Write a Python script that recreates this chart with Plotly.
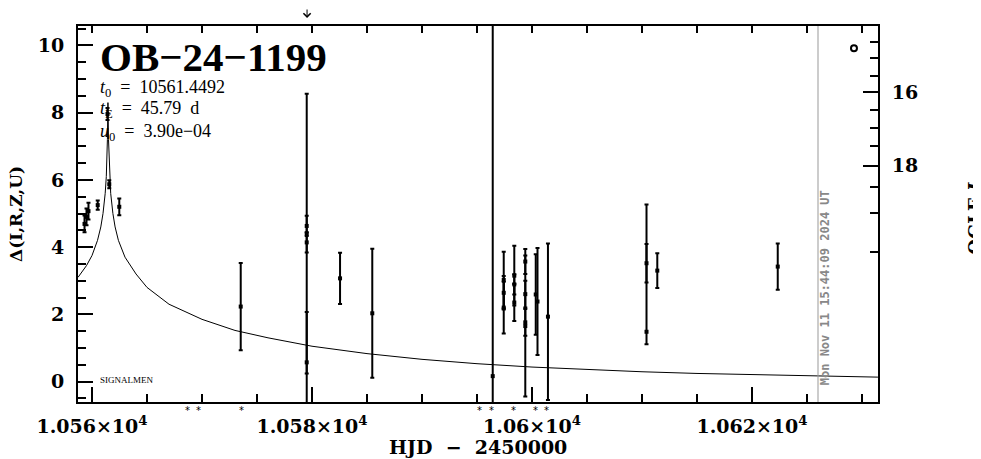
import plotly.graph_objects as go

# ---------------- data ----------------
# model light curve
curve_t = [10558.73, 10559.0, 10559.5, 10560.0, 10560.5, 10560.8, 10561.0, 10561.2, 10561.3,
           10561.4, 10561.45, 10561.5, 10561.6, 10561.7, 10561.9, 10562.1, 10562.4, 10563.0,
           10564.0, 10565.0, 10567.0, 10570.0, 10573.0, 10576.0, 10580.0, 10585.0, 10590.0,
           10595.0, 10600.0, 10605.0, 10610.0, 10615.0, 10620.0, 10625.0, 10631.45]
curve_d = [3.10, 3.22, 3.45, 3.75, 4.20, 4.60, 5.00, 5.60, 6.10,
           7.20, 8.30, 7.20, 6.10, 5.60, 5.00, 4.60, 4.20, 3.70,
           3.20, 2.80, 2.30, 1.85, 1.52, 1.30, 1.05, 0.83, 0.66,
           0.53, 0.43, 0.35, 0.29, 0.24, 0.20, 0.17, 0.13]

# observations: time, delta, error plus, error minus
obs_t = [10559.32, 10559.50, 10559.68, 10560.52, 10561.41, 10561.57, 10562.48,
         10573.52, 10579.52, 10579.52, 10579.52, 10579.52, 10582.55, 10585.48,
         10596.43, 10597.43, 10597.43, 10597.43, 10598.39, 10598.39, 10598.39,
         10599.39, 10599.39, 10599.39, 10599.39, 10600.34, 10600.50, 10601.45,
         10610.41, 10610.41, 10611.39, 10622.34]
obs_d = [4.69, 4.90, 5.07, 5.25, 7.96, 5.87, 5.20,
         2.23, 4.40, 4.63, 4.14, 0.57, 3.07, 2.03,
         0.16, 3.02, 2.64, 2.20, 3.15, 2.89, 2.35,
         3.57, 2.60, 1.76, 1.65, 2.59, 2.38, 1.93,
         1.48, 3.52, 3.30, 3.42]
obs_ep = [0.25, 0.25, 0.25, 0.14, 0.18, 0.12, 0.25,
          1.30, 4.16, 0.30, 0.30, 1.50, 0.76, 1.92,
          10.5, 0.84, 0.50, 0.77, 0.89, 0.30, 0.55,
          0.37, 0.40, 0.40, 2.10, 1.20, 1.59, 2.18,
          3.79, 0.57, 0.52, 0.69]
obs_em = [0.25, 0.25, 0.25, 0.14, 0.18, 0.12, 0.25,
          1.30, 4.16, 0.30, 0.30, 1.50, 0.76, 1.92,
          1.00, 0.84, 0.50, 0.77, 0.89, 0.30, 0.55,
          0.37, 0.40, 0.40, 2.10, 1.20, 1.59, 2.48,
          0.37, 0.57, 0.52, 0.69]

# baseline marker
base_t = [10629.27]
base_d = [9.92]

# asterisks under the axis (times)
star_t = [10568.64, 10569.64, 10573.55, 10595.27, 10596.36, 10598.36, 10600.36, 10601.36]

x_tickvals = [10560, 10580, 10600, 10620]
x_ticktext = ["1.056×10<sup>4</sup>", "1.058×10<sup>4</sup>", "1.06×10<sup>4</sup>", "1.062×10<sup>4</sup>"]
x_top_ticks = [10560, 10565, 10570, 10575, 10580, 10585, 10590, 10595, 10600, 10605, 10610, 10615, 10620, 10625, 10630]
y_tickvals = [0, 2, 4, 6, 8, 10]
ogle_major_pos = [8.61, 6.42]
ogle_major_lab = ["16", "18"]
ogle_minor_pos = [10.10, 9.62, 9.08, 8.09, 7.55, 7.01, 5.80, 5.01, 3.84]

today_t = 10626.0
arrow_t = 10579.55

XR = [10558.727, 10631.455]
YR = [-0.61, 10.58]

TICKFONT = dict(family="DejaVu Serif", size=19, color="black", weight="bold")

fig = go.Figure()

fig.add_trace(go.Scatter(x=curve_t, y=curve_d, mode="lines",
                         line=dict(color="black", width=1), hoverinfo="skip"))

fig.add_trace(go.Scatter(
    x=obs_t, y=obs_d, mode="markers",
    marker=dict(color="black", size=4, symbol="square"),
    error_y=dict(type="data", array=obs_ep, arrayminus=obs_em, symmetric=False,
                 color="black", thickness=2, width=2),
    cliponaxis=True))

fig.add_trace(go.Scatter(
    x=base_t, y=base_d, mode="markers", xaxis="x2", yaxis="y2",
    marker=dict(symbol="circle-open", size=6, color="black", line=dict(color="black", width=2))))

fig.update_layout(
    width=973, height=451,
    margin=dict(l=70, r=103, t=18, b=57),
    plot_bgcolor="white", paper_bgcolor="white",
    showlegend=False,
    xaxis=dict(range=XR, tickvals=x_tickvals, ticktext=x_ticktext,
               ticks="inside", ticklen=15, tickwidth=2, tickcolor="black",
               showline=True, linewidth=2, linecolor="black",
               showgrid=False, zeroline=False, tickfont=TICKFONT,
               ticklabelstandoff=6,
               minor=dict(tick0=10560, dtick=5, ticks="inside", ticklen=8,
                          tickwidth=2, tickcolor="black", showgrid=False)),
    xaxis2=dict(range=XR, overlaying="x", side="top", tickvals=x_top_ticks,
                ticks="inside", ticklen=7, tickwidth=2, tickcolor="black",
                showticklabels=False, showline=True, linewidth=2, linecolor="black",
                showgrid=False, zeroline=False),
    yaxis=dict(range=YR, tickvals=y_tickvals, ticks="inside", ticklen=15,
               tickwidth=2, tickcolor="black", showline=True, linewidth=2,
               linecolor="black", showgrid=False, zeroline=False, tickfont=TICKFONT,
               ticklabelstandoff=8,
               minor=dict(tick0=0, dtick=0.5, ticks="inside", ticklen=8,
                          tickwidth=2, tickcolor="black", showgrid=False)),
    yaxis2=dict(range=YR, overlaying="y", side="right", tickvals=ogle_major_pos,
                ticktext=ogle_major_lab, ticks="inside", ticklen=15, tickwidth=2,
                tickcolor="black", showline=True, linewidth=2, linecolor="black",
                showgrid=False, zeroline=False, tickfont=TICKFONT,
                ticklabelstandoff=8,
                minor=dict(tickvals=ogle_minor_pos, ticks="inside", ticklen=8,
                           tickwidth=2, tickcolor="black", showgrid=False)),
)

fig.add_shape(type="line", xref="x", yref="paper", x0=today_t, x1=today_t, y0=0, y1=1,
              line=dict(color="#999999", width=1))

ann = []
ann.append(dict(xref="paper", yref="paper", x=0.025, y=0.9176, xanchor="left", yanchor="middle",
                text="OB−24−1199", showarrow=False,
                font=dict(family="Liberation Serif", size=41, color="black", weight="bold")))
pfont = dict(family="Liberation Serif", size=18, color="black")
ann.append(dict(xref="paper", yref="paper", x=0.025, y=0.835, xanchor="left", yanchor="middle",
                text="<i>t</i><sub>0</sub>  =  10561.4492", showarrow=False, font=pfont))
ann.append(dict(xref="paper", yref="paper", x=0.025, y=0.777, xanchor="left", yanchor="middle",
                text="<i>t</i><sub>E</sub>  =  45.79  d", showarrow=False, font=pfont))
ann.append(dict(xref="paper", yref="paper", x=0.025, y=0.718, xanchor="left", yanchor="middle",
                text="<i>u</i><sub>0</sub>  =  3.90e−04", showarrow=False, font=pfont))
ann.append(dict(xref="paper", yref="paper", x=0.025, y=0.0585, xanchor="left", yanchor="middle",
                text="SIGNALMEN", showarrow=False,
                font=dict(family="Liberation Serif", size=9, color="black")))
ann.append(dict(xref="paper", yref="paper", x=0.5, y=-0.1197, xanchor="center", yanchor="middle",
                text="HJD  −  2450000", showarrow=False,
                font=dict(family="DejaVu Serif", size=19, color="black", weight="bold")))
ann.append(dict(xref="paper", yref="paper", x=-0.0775, y=0.5, xanchor="center", yanchor="middle",
                text="Δ(I,R,Z,U)", showarrow=False, textangle=-90,
                font=dict(family="DejaVu Serif", size=17, color="black", weight="bold")))
ann.append(dict(xref="paper", yref="paper", x=1.122, y=0.489, xanchor="center", yanchor="middle",
                text="OGLE <i>I</i>", showarrow=False, textangle=-90,
                font=dict(family="DejaVu Serif", size=18, color="black", weight="bold")))
ann.append(dict(xref="paper", yref="paper", x=0.934, y=0.303, xanchor="center", yanchor="middle",
                text="Mon Nov 11 15:44:09 2024 UT", showarrow=False, textangle=-90,
                font=dict(family="DejaVu Sans Mono", size=12, color="#888888", weight="bold")))
ann.append(dict(xref="x", yref="paper", x=arrow_t, y=1.0213, text="", showarrow=True,
                ax=0, ay=-18, arrowhead=4, arrowsize=1.4, arrowwidth=1, arrowcolor="black"))
for t in star_t:
    ann.append(dict(xref="x", yref="paper", x=t, y=-0.003, text="*", showarrow=False,
                    xanchor="center", yanchor="top",
                    font=dict(family="DejaVu Sans", size=10, color="black")))
fig.update_layout(annotations=ann)

fig.write_html("out.html")
